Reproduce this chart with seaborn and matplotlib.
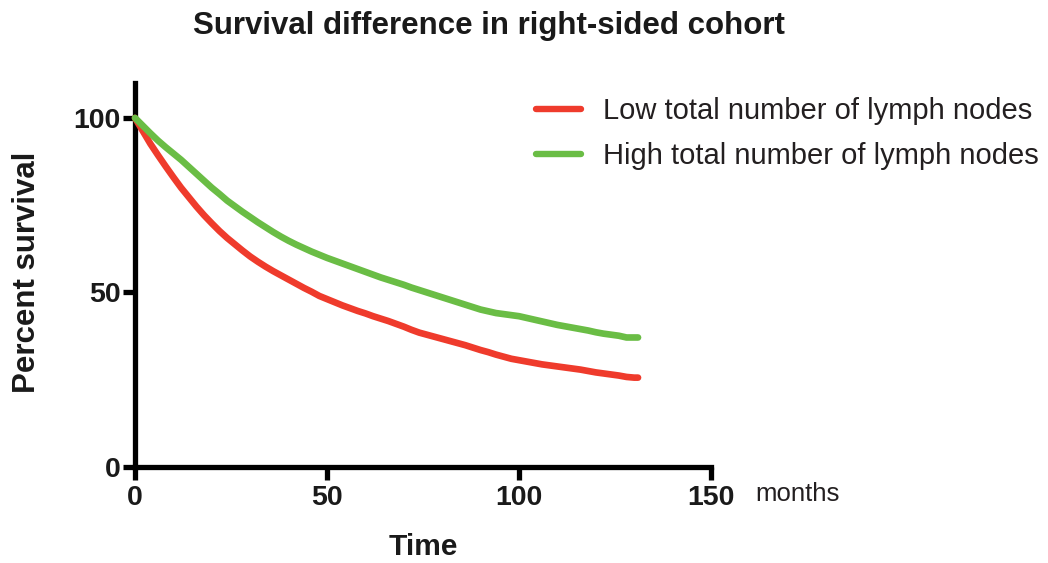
import numpy as np
import pandas as pd
import matplotlib
matplotlib.use("Agg")
import matplotlib.pyplot as plt
import seaborn as sns
from matplotlib.lines import Line2D

# ---- data ----
months = [0, 2, 4, 6, 8, 10, 12, 14, 16, 18, 20, 22, 24, 26, 28, 30, 32, 34, 36, 38,
          40, 42, 44, 46, 48, 50, 52, 54, 56, 58, 60, 62, 64, 66, 68, 70, 72, 74, 76, 78,
          80, 82, 84, 86, 88, 90, 92, 94, 96, 98, 100, 102, 104, 106, 108, 110, 112, 114,
          116, 118, 120, 122, 124, 126, 128, 130, 131]

low_nodes = [100, 96.3, 92.6, 89.3, 86.1, 83.0, 80.0, 77.3, 74.6, 72.1, 69.8, 67.6, 65.6,
             63.8, 62.0, 60.3, 58.8, 57.4, 56.1, 54.9, 53.7, 52.5, 51.3, 50.2, 49.0, 48.1,
             47.2, 46.3, 45.5, 44.7, 44.0, 43.2, 42.5, 41.8, 41.0, 40.2, 39.3, 38.5, 37.9,
             37.3, 36.7, 36.1, 35.5, 34.9, 34.2, 33.5, 32.9, 32.2, 31.6, 31.0, 30.6, 30.2,
             29.8, 29.4, 29.1, 28.8, 28.5, 28.2, 27.9, 27.5, 27.1, 26.8, 26.5, 26.2, 25.8,
             25.6, 25.6]

high_nodes = [100, 97.8, 95.6, 93.5, 91.6, 89.8, 88.0, 86.0, 84.0, 82.0, 80.0, 78.2, 76.3,
              74.7, 73.1, 71.6, 70.1, 68.7, 67.3, 66.0, 64.8, 63.7, 62.7, 61.7, 60.8, 59.9,
              59.1, 58.3, 57.5, 56.7, 55.9, 55.1, 54.3, 53.6, 52.9, 52.2, 51.4, 50.7, 50.0,
              49.3, 48.6, 47.9, 47.2, 46.5, 45.8, 45.1, 44.6, 44.1, 43.8, 43.5, 43.2, 42.7,
              42.2, 41.7, 41.2, 40.7, 40.3, 39.9, 39.5, 39.1, 38.6, 38.2, 37.9, 37.6, 37.1,
              37.1, 37.1]

series_names = ["Low total number of lymph nodes", "High total number of lymph nodes"]
series_colors = ["#ef3b2c", "#6abd45"]
x_ticks = [0, 50, 100, 150]
y_ticks = [0, 50, 100]

title = "Survival difference in right-sided cohort"
x_label = "Time"
y_label = "Percent survival"
x_unit = "months"

df = pd.DataFrame({
    "time": months + months,
    "survival": low_nodes + high_nodes,
    "group": [series_names[0]] * len(months) + [series_names[1]] * len(months),
})

sns.set_theme(style="ticks")
plt.rcParams["font.family"] = ["Liberation Sans", "DejaVu Sans"]

fig = plt.figure(figsize=(10.48, 5.63), dpi=100)
ax = fig.add_axes([135 / 1048, 96 / 563, 576 / 1048, 384 / 563])

sns.lineplot(data=df, x="time", y="survival", hue="group", hue_order=series_names,
             palette=series_colors, estimator=None,
             linewidth=4.8, ax=ax, legend=False, clip_on=False, zorder=5)

ax.set_xlim(0, 150)
ax.set_ylim(0, 110)
ax.set_xticks(x_ticks)
ax.set_yticks(y_ticks)
ax.set_xticklabels([str(v) for v in x_ticks], fontsize=20.5, fontweight="bold", color="#1a1a1a")
ax.set_yticklabels([str(v) for v in y_ticks], fontsize=20.5, fontweight="bold", color="#1a1a1a")
ax.tick_params(axis="both", direction="out", length=9, width=3.8, color="black")
ax.tick_params(axis="x", pad=4)
ax.tick_params(axis="y", pad=1.5)
for side in ["top", "right"]:
    ax.spines[side].set_visible(False)
for side in ["left", "bottom"]:
    ax.spines[side].set_linewidth(3.8)
    ax.spines[side].set_color("black")
ax.set_xlabel("")
ax.set_ylabel("")

fig.text(423 / 1048, 1 - 547 / 563, x_label, ha="center", va="center",
         fontsize=21.5, fontweight="bold", color="#1a1a1a")
fig.text(27 / 1048, 1 - 272 / 563, y_label, ha="center", va="center", rotation=90,
         fontsize=22.5, fontweight="bold", color="#1a1a1a")
fig.text(489 / 1048, 1 - 26 / 563, title, ha="center", va="center",
         fontsize=22.5, fontweight="bold", color="#1a1a1a")
fig.text(755 / 1048, 1 - 494 / 563, x_unit, ha="left", va="center",
         fontsize=18.5, color="#231f20")

# legend
handles = [Line2D([], [], color=c, linewidth=4.6, solid_capstyle="round") for c in series_colors]
fig.legend(handles, series_names, loc="upper left",
           bbox_to_anchor=(536 / 1048, 1 - 97 / 563), frameon=False,
           fontsize=21, handlelength=1.55, handletextpad=0.75, labelspacing=0.6,
           borderpad=0, borderaxespad=0, labelcolor="#231f20")

fig.savefig("out.png", dpi=100)
